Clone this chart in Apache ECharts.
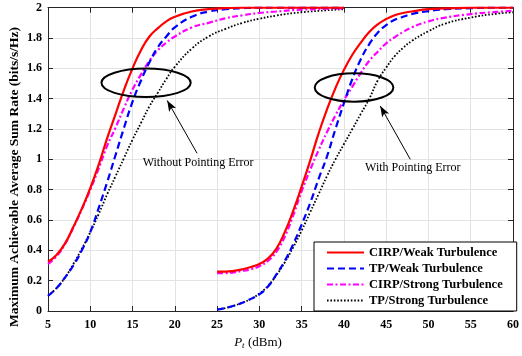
<!DOCTYPE html>
<html>
<head>
<meta charset="utf-8">
<script src="https://cdn.jsdelivr.net/npm/echarts@6/dist/echarts.min.js"></script>
<style>
  html, body { margin: 0; padding: 0; background: #fff; }
  #chart { width: 522px; height: 356px; }
</style>
</head>
<body>
<div id="chart"></div>
<script>
// Transmit power grid (dBm) for the two scenarios
const xWithoutPE = [5,6,7,8,9,10,11,12,13,14,15,16,17,18,19,20,22,24,26,28,30,32,35,40];
const xWithPE = [25,26,27,28,29,30,31,32,33,34,35,36,37,38,39,40,41,42,43,44,45,46,47,48,50,52,55,58,60];

// Sum rate without pointing error (bits/s/Hz)
const cirpWeakNoPE   = [0.325,0.37,0.445,0.555,0.675,0.81,0.965,1.14,1.30,1.46,1.60,1.72,1.81,1.865,1.91,1.94,1.975,1.99,1.997,2.0,2.0,2.0,2.0,2.0];
const tpWeakNoPE     = [0.10,0.15,0.22,0.30,0.40,0.52,0.68,0.85,1.03,1.21,1.38,1.52,1.64,1.74,1.81,1.87,1.94,1.975,1.99,1.997,2.0,2.0,2.0,2.0];
const cirpStrongNoPE = [0.31,0.36,0.44,0.55,0.67,0.80,0.94,1.09,1.21,1.34,1.46,1.56,1.65,1.72,1.77,1.81,1.87,1.90,1.93,1.95,1.965,1.975,1.987,1.995];
const tpStrongNoPE   = [0.10,0.15,0.22,0.31,0.41,0.52,0.64,0.77,0.89,1.01,1.13,1.24,1.35,1.44,1.53,1.61,1.73,1.81,1.86,1.90,1.927,1.948,1.97,1.99];

// Sum rate with pointing error (bits/s/Hz)
const cirpWeakPE   = [0.26,0.26,0.265,0.275,0.29,0.31,0.345,0.41,0.52,0.66,0.82,0.99,1.17,1.33,1.47,1.59,1.69,1.77,1.84,1.89,1.925,1.95,1.965,1.975,1.99,1.995,2.0,2.0,2.0];
const tpWeakPE     = [0.01,0.02,0.035,0.055,0.08,0.11,0.16,0.24,0.33,0.44,0.57,0.71,0.87,1.02,1.20,1.37,1.53,1.66,1.76,1.835,1.885,1.92,1.94,1.958,1.978,1.99,1.997,2.0,2.0];
const cirpStrongPE = [0.25,0.25,0.255,0.265,0.275,0.295,0.33,0.39,0.49,0.63,0.79,0.93,1.06,1.18,1.29,1.39,1.48,1.57,1.65,1.71,1.765,1.805,1.84,1.87,1.91,1.935,1.958,1.972,1.98];
const tpStrongPE   = [0.01,0.02,0.035,0.055,0.08,0.115,0.165,0.235,0.32,0.42,0.53,0.65,0.77,0.89,1.00,1.10,1.20,1.30,1.40,1.52,1.605,1.68,1.735,1.78,1.845,1.895,1.935,1.96,1.97];

const legendNames = ['CIRP/Weak Turbulence', 'TP/Weak Turbulence', 'CIRP/Strong Turbulence', 'TP/Strong Turbulence'];

// Annotation anchors in data units
const notes = [
  { ellipse: [16.6, 1.505, 5.28, 0.094], arrowFrom: [22.63, 1.04], arrowTo: [19.1, 1.388], text: 'Without Pointing Error', textAt: [22.75, 0.976] },
  { ellipse: [41.2, 1.474, 4.65, 0.0935], arrowFrom: [47.85, 1.0], arrowTo: [44.3, 1.352], text: 'With Pointing Error', textAt: [48.15, 0.943] }
];

const SERIF = '"Liberation Serif", "Times New Roman", serif';

const styles = [
  { color: '#ff0000', width: 2.2, type: 'solid' },
  { color: '#0000ff', width: 2.2, type: [7, 4] },
  { color: '#ff00ff', width: 2.2, type: [6, 2.5, 2, 2.5] },
  { color: '#000000', width: 1.8, type: [1.6, 1.8] }
];

function pairs(xs, ys) { return xs.map((x, i) => [x, ys[i]]); }

function makeSeries(name, idx, xs, ys) {
  const s = styles[idx];
  return {
    name: name,
    type: 'line',
    data: pairs(xs, ys),
    showSymbol: false,
    symbol: 'none',
    smooth: 0.5,
    color: s.color,
    itemStyle: { color: s.color },
    lineStyle: { color: s.color, width: s.width, type: s.type },
    z: 10 - idx,
    animation: false
  };
}

const series = [
  makeSeries(legendNames[0], 0, xWithoutPE, cirpWeakNoPE),
  makeSeries(legendNames[1], 1, xWithoutPE, tpWeakNoPE),
  makeSeries(legendNames[2], 2, xWithoutPE, cirpStrongNoPE),
  makeSeries(legendNames[3], 3, xWithoutPE, tpStrongNoPE),
  makeSeries(legendNames[0], 0, xWithPE, cirpWeakPE),
  makeSeries(legendNames[1], 1, xWithPE, tpWeakPE),
  makeSeries(legendNames[2], 2, xWithPE, cirpStrongPE),
  makeSeries(legendNames[3], 3, xWithPE, tpStrongPE)
];

// Arrows pointing from the captions to the ellipses
series[0].markLine = {
  silent: true,
  symbol: ['none', 'arrow'],
  symbolSize: [6, 11],
  label: { show: false },
  lineStyle: { color: '#000', width: 1, type: 'solid' },
  data: notes.map(n => [{ coord: n.arrowFrom }, { coord: n.arrowTo }]),
  animation: false
};

const axisColor = '#262626';
const tickLabel = { color: '#000', fontFamily: SERIF, fontWeight: 'bold', fontSize: 12 };

const option = {
  animation: false,
  backgroundColor: '#fff',
  grid: { left: 48, right: 6, top: 7.7, bottom: 45, containLabel: false },
  xAxis: [
    {
      type: 'value', min: 5, max: 60, interval: 5, position: 'bottom',
      axisLine: { show: true, onZero: false, lineStyle: { color: axisColor, width: 1 } },
      axisTick: { show: true, inside: true, length: 5, lineStyle: { color: axisColor } },
      axisLabel: Object.assign({ margin: 8 }, tickLabel),
      splitLine: { show: true, lineStyle: { color: '#e3e3e3', width: 1 } }
    },
    {
      type: 'value', min: 5, max: 60, interval: 5, position: 'top',
      axisLine: { show: true, onZero: false, lineStyle: { color: axisColor, width: 1 } },
      axisTick: { show: true, inside: true, length: 5, lineStyle: { color: axisColor } },
      axisLabel: { show: false }, splitLine: { show: false }
    }
  ],
  yAxis: [
    {
      type: 'value', min: 0, max: 2, interval: 0.2, position: 'left',
      axisLine: { show: true, onZero: false, lineStyle: { color: axisColor, width: 1 } },
      axisTick: { show: true, inside: true, length: 5, lineStyle: { color: axisColor } },
      axisLabel: Object.assign({ margin: 6 }, tickLabel),
      splitLine: { show: true, lineStyle: { color: '#e3e3e3', width: 1 } }
    },
    {
      type: 'value', min: 0, max: 2, interval: 0.2, position: 'right',
      axisLine: { show: true, onZero: false, lineStyle: { color: axisColor, width: 1 } },
      axisTick: { show: true, inside: true, length: 5, lineStyle: { color: axisColor } },
      axisLabel: { show: false }, splitLine: { show: false }
    }
  ],
  legend: {
    data: legendNames,
    orient: 'vertical',
    left: 314,
    top: 242,
    padding: [4, 14, 4, 12],
    itemGap: 3,
    itemWidth: 37,
    itemHeight: 12,
    itemStyle: { opacity: 0 },
    backgroundColor: '#fff',
    borderColor: '#000',
    borderWidth: 1,
    borderRadius: 0,
    textStyle: { color: '#000', fontFamily: SERIF, fontWeight: 'bold', fontSize: 12.5 },
    selectedMode: false,
    z: 20
  },
  series: series
};

const chart = echarts.init(document.getElementById('chart'), null, { renderer: 'canvas' });
chart.setOption(option);

// Ellipses, captions and axis titles placed from data coordinates
function px(p) { return chart.convertToPixel({ xAxisIndex: 0, yAxisIndex: 0 }, p); }

const graphics = [];
notes.forEach(n => {
  const c = px([n.ellipse[0], n.ellipse[1]]);
  const e = px([n.ellipse[0] + n.ellipse[2], n.ellipse[1] + n.ellipse[3]]);
  graphics.push({
    type: 'ellipse',
    shape: { cx: c[0], cy: c[1], rx: Math.abs(e[0] - c[0]), ry: Math.abs(c[1] - e[1]) },
    style: { fill: null, stroke: '#000', lineWidth: 2 },
    z: 15
  });
  const t = px(n.textAt);
  graphics.push({
    type: 'text', x: t[0], y: t[1], z: 15,
    style: { text: n.text, fill: '#000', font: '12px ' + SERIF, textAlign: 'center', textVerticalAlign: 'middle' }
  });
});

graphics.push({
  type: 'text', x: 15, y: 177, rotation: Math.PI / 2, z: 15,
  style: {
    text: 'Maximum Achievable Average Sum Rate (bits/s/Hz)',
    fill: '#000', font: 'bold 13.5px ' + SERIF, textAlign: 'center', textVerticalAlign: 'middle'
  }
});

graphics.push({
  type: 'text', x: 258, y: 343, z: 15,
  style: {
    text: '{i|P}{s|t}{n| (dBm)}',
    textAlign: 'center', textVerticalAlign: 'middle',
    rich: {
      i: { fontFamily: SERIF, fontStyle: 'italic', fontSize: 13, fill: '#000', color: '#000' },
      s: { fontFamily: SERIF, fontStyle: 'italic', fontSize: 9, fill: '#000', color: '#000', padding: [6, 0, 0, 0] },
      n: { fontFamily: SERIF, fontSize: 13, fill: '#000', color: '#000' }
    }
  }
});

chart.setOption({ graphic: graphics });
</script>
</body>
</html>
